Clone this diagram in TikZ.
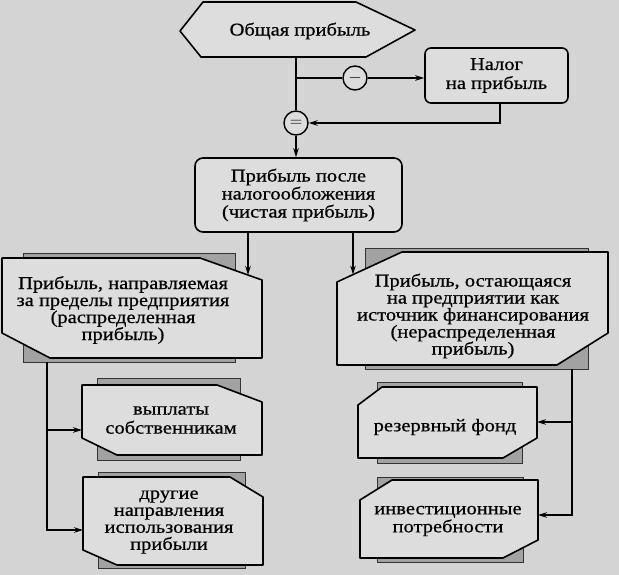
\documentclass[tikz,border=0pt]{standalone}
\usepackage{fontspec}
\setmainfont{Liberation Serif}[FakeStretch=1.14, FakeBold=0.6]
\usetikzlibrary{arrows.meta}
\definecolor{bgc}{HTML}{D4D4D4}
\definecolor{boxc}{HTML}{DDDDDD}
\definecolor{shc}{HTML}{A2A2A2}
\tikzset{
  ln/.style={line width=1.5pt, draw=black},
  arr/.style={ln, -{Stealth[length=9pt,width=5.5pt]}},
  frame/.style={line width=1.6pt, draw=black, fill=boxc, line join=round},
  shadowbox/.style={fill=shc, draw=black!80, line width=0.9pt},
  txt/.style={align=center, inner sep=0pt, font=\fontsize{18}{17}\selectfont},
  circ/.style={circle, draw, line width=1.4pt, fill=boxc, minimum size=24pt, inner sep=0pt, font=\fontsize{18}{18}\selectfont},
}
\begin{document}
\begin{tikzpicture}[x=1pt,y=-1pt]
\fill[bgc] (0,0) rectangle (619,575);
\useasboundingbox (0,0) rectangle (619,575);

% top hexagon
\draw[frame] (180,31) -- (203,2) -- (356,2) -- (415,30) -- (366,57) -- (201,57) -- cycle;
\node[txt] (total) at (300,31) {Общая прибыль};

% tax box
\node[frame, rounded corners=6pt, minimum width=143pt, minimum height=55pt, inner sep=0pt,
      txt, font=\fontsize{18}{19}\selectfont] (tax) at (496.5,75.5) {Налог\\на прибыль};

% circles
\node[circ] (minus) at (355,78) {$-$};
\node[circ] (eq) at (296,123) {$=$};

% net profit box
\node[frame, rounded corners=8pt, minimum width=207pt, minimum height=74pt, inner sep=0pt,
      txt, font=\fontsize{18}{18}\selectfont] (net) at (298.5,195) {Прибыль после\\налогообложения\\(чистая прибыль)};

% shadows
\draw[shadowbox] (23,253) rectangle (235,362);
\draw[shadowbox] (365,248) rectangle (588,369);
\draw[shadowbox] (97,378) rectangle (240,460);
\draw[shadowbox] (98,472) rectangle (245,568);
\draw[shadowbox] (377,382) rectangle (522,463);
\draw[shadowbox] (377,477) rectangle (523,562);

% chamfered boxes
\draw[frame] (2,258) -- (200,258) -- (262,280) -- (262,358) -- (50,358) -- (2,333) -- cycle;
\draw[frame] (402,252) -- (608,252) -- (608,333) -- (557,365) -- (337,365) -- (337,282) -- cycle;
\draw[frame] (82,385) -- (217,385) -- (262,402) -- (262,455) -- (117,455) -- (82,438) -- cycle;
\draw[frame] (83,477) -- (230,477) -- (263,497) -- (263,565) -- (117,565) -- (83,550) -- cycle;
\draw[frame] (382,387) -- (537,387) -- (537,438) -- (503,458) -- (358,458) -- (358,405) -- cycle;
\draw[frame] (392,480) -- (538,480) -- (538,540) -- (503,558) -- (360,558) -- (360,500) -- cycle;

\node[txt] (dist) at (123,310) {Прибыль, направляемая\\за пределы предприятия\\(распределенная\\прибыль)};
\node[txt] (retain) at (473,316) {Прибыль, остающаяся\\на предприятии как\\источник финансирования\\(нераспределенная\\прибыль)};
\node[txt, font=\fontsize{18}{19}\selectfont] (owners) at (171,420) {выплаты\\собственникам};
\node[txt] (other) at (169,522) {другие\\направления\\использования\\прибыли};
\node[txt] (reserve) at (445,427) {резервный фонд};
\node[txt, font=\fontsize{18}{18}\selectfont] (invest) at (448,521) {инвестиционные\\потребности};

% connector points
\coordinate (hexS) at (296,57);
\coordinate (br) at (296,78);
\coordinate (taxout) at (500,103);
\coordinate (lin) at (248,275);
\coordinate (rin) at (353,274.6);
\coordinate (lout) at (47,362);
\coordinate (b1in) at (82,430);
\coordinate (b2in) at (83,530);
\coordinate (rout) at (572,369);
\coordinate (b3in) at (537,422);
\coordinate (b4in) at (538,515);

% connectors
\draw[ln] (hexS) -- (eq.north);
\draw[ln] (br) -- (minus.west);
\draw[arr] (minus.east) -- (minus.east -| tax.west);
\draw[arr] (taxout) |- (eq.east);
\draw[arr] (eq.south) -- (eq.south |- net.north);
\draw[arr] (lin |- net.south) -- (lin);
\draw[arr] (rin |- net.south) -- (rin);
\draw[arr] (lout) |- (b2in);
\draw[arr] (lout |- b1in) -- (b1in);
\draw[arr] (rout) |- (b4in);
\draw[arr] (rout |- b3in) -- (b3in);
\end{tikzpicture}
\end{document}
